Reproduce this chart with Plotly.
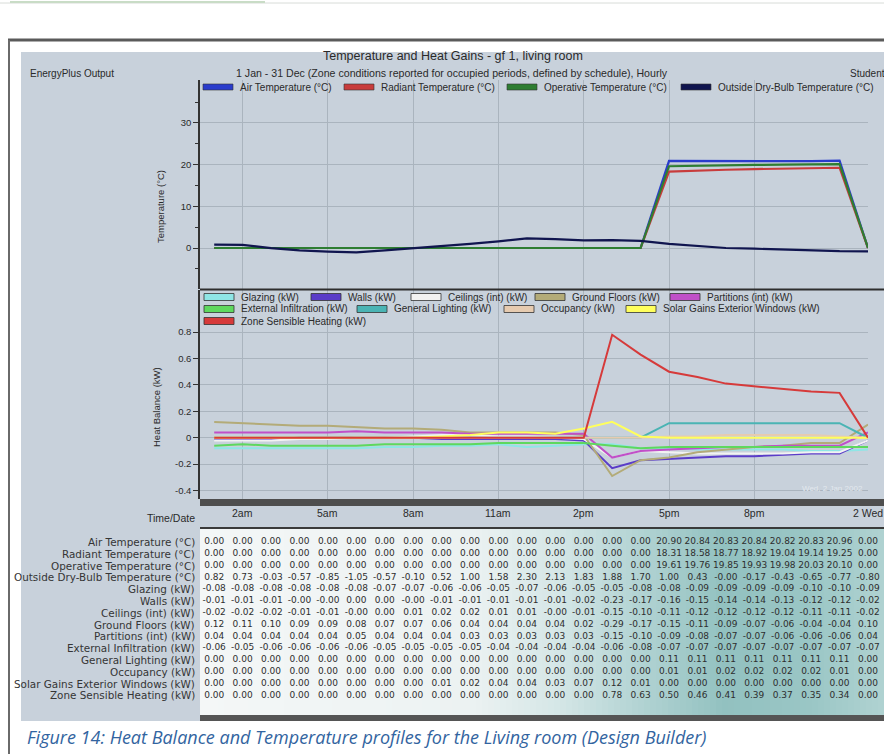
import plotly.graph_objects as go

# ---------------------------------------------------------------- data
hours = list(range(1, 25))          # hourly steps, 1am .. midnight

air_temp = [0.00] * 16 + [20.90, 20.84, 20.83, 20.84, 20.82, 20.83, 20.96, 0.00]
radiant_temp = [0.00] * 16 + [18.31, 18.58, 18.77, 18.92, 19.04, 19.14, 19.25, 0.00]
operative_temp = [0.00] * 16 + [19.61, 19.76, 19.85, 19.93, 19.98, 20.03, 20.10, 0.00]
outside_temp = [0.82, 0.73, -0.03, -0.57, -0.85, -1.05, -0.57, -0.10, 0.52, 1.00, 1.58, 2.30,
                2.13, 1.83, 1.88, 1.70, 1.00, 0.43, -0.0, -0.17, -0.43, -0.65, -0.77, -0.80]

glazing = [-0.08, -0.08, -0.08, -0.08, -0.08, -0.08, -0.07, -0.07, -0.06, -0.06, -0.05, -0.07,
           -0.06, -0.05, -0.05, -0.08, -0.08, -0.09, -0.09, -0.09, -0.09, -0.10, -0.10, -0.09]
walls = [-0.01, -0.01, -0.01, -0.0, -0.0, 0.00, 0.00, -0.0, -0.01, -0.01, -0.01, -0.01,
         -0.01, -0.02, -0.23, -0.17, -0.16, -0.15, -0.14, -0.14, -0.13, -0.12, -0.12, -0.02]
ceilings = [-0.02, -0.02, -0.02, -0.01, -0.01, -0.0, 0.00, 0.01, 0.02, 0.02, 0.01, 0.01,
            -0.0, -0.01, -0.15, -0.10, -0.11, -0.12, -0.12, -0.12, -0.12, -0.11, -0.11, -0.02]
ground_floors = [0.12, 0.11, 0.10, 0.09, 0.09, 0.08, 0.07, 0.07, 0.06, 0.04, 0.04, 0.04,
                 0.04, 0.02, -0.29, -0.17, -0.15, -0.11, -0.09, -0.07, -0.06, -0.04, -0.04, 0.10]
partitions = [0.04, 0.04, 0.04, 0.04, 0.04, 0.05, 0.04, 0.04, 0.04, 0.03, 0.03, 0.03,
              0.03, 0.03, -0.15, -0.10, -0.09, -0.08, -0.07, -0.07, -0.06, -0.06, -0.06, 0.04]
infiltration = [-0.06, -0.05, -0.06, -0.06, -0.06, -0.06, -0.05, -0.05, -0.05, -0.05, -0.04, -0.04,
                -0.04, -0.04, -0.06, -0.08, -0.07, -0.07, -0.07, -0.07, -0.07, -0.07, -0.07, -0.07]
lighting = [0.00] * 16 + [0.11] * 7 + [0.00]
occupancy = [0.00] * 16 + [0.01, 0.01, 0.02, 0.02, 0.02, 0.02, 0.01, 0.00]
solar_gains = [0.00] * 8 + [0.01, 0.02, 0.04, 0.04, 0.03, 0.07, 0.12, 0.01] + [0.00] * 8
zone_heating = [0.00] * 14 + [0.78, 0.63, 0.50, 0.46, 0.41, 0.39, 0.37, 0.35, 0.34, 0.00]

time_tick_hours = [2, 5, 8, 11, 14, 17, 20, 24]
time_tick_labels = ["2am", "5am", "8am", "11am", "2pm", "5pm", "8pm", "2 Wed"]

temp_ticks = [0, 10, 20, 30]
balance_ticks = [-0.4, -0.2, 0, 0.2, 0.4, 0.6, 0.8]

temp_names = ["Air Temperature (°C)", "Radiant Temperature (°C)",
              "Operative Temperature (°C)", "Outside Dry-Bulb Temperature (°C)"]
balance_names = ["Glazing (kW)", "Walls (kW)", "Ceilings (int) (kW)", "Ground Floors (kW)",
                 "Partitions (int) (kW)", "External Infiltration (kW)", "General Lighting (kW)",
                 "Occupancy (kW)", "Solar Gains Exterior Windows (kW)", "Zone Sensible Heating (kW)"]

temp_series = [air_temp, radiant_temp, operative_temp, outside_temp]
balance_series = [glazing, walls, ceilings, ground_floors, partitions, infiltration,
                  lighting, occupancy, solar_gains, zone_heating]

# ---------------------------------------------------------------- styling
W, H = 884, 754
FONT = "Liberation Sans, Arial, sans-serif"
TABLE_FONT = "DejaVu Sans, sans-serif"
TXT = "#2a2a2a"
BG = "#c8d1db"
GRID = "#aab4be"

temp_colors = ["#2a3ccc", "#c83c3c", "#2e7d32", "#10154f"]
balance_colors = ["#8fe6e6", "#5a3cc8", "#f2f2f2", "#b3ab78", "#c050c8",
                  "#5ed85e", "#4ab4b4", "#e6cbb0", "#ffff5c", "#d63a3a"]

ROW0, ROWSTEP = 542, 11.8           # pixel row layout of the value table


def px(x):
    return x / W


def py(y):
    return 1 - y / H


shapes = []
annotations = []


def rect(x0, y0, x1, y1, fill, line="rgba(0,0,0,0)", lw=0, layer="below"):
    shapes.append(dict(type="rect", xref="paper", yref="paper",
                       x0=px(x0), x1=px(x1), y0=py(y1), y1=py(y0),
                       fillcolor=fill, line=dict(color=line, width=lw), layer=layer))


def hline(x0, x1, y, color, lw, layer="below"):
    shapes.append(dict(type="line", xref="paper", yref="paper",
                       x0=px(x0), x1=px(x1), y0=py(y), y1=py(y),
                       line=dict(color=color, width=lw), layer=layer))


def vline(x, y0, y1, color, lw, layer="below"):
    shapes.append(dict(type="line", xref="paper", yref="paper",
                       x0=px(x), x1=px(x), y0=py(y0), y1=py(y1),
                       line=dict(color=color, width=lw), layer=layer))


def text(x, y, s, size=10, anchor="left", color=TXT, family=FONT, **kw):
    annotations.append(dict(xref="paper", yref="paper", x=px(x), y=py(y), text=s,
                            showarrow=False, xanchor=anchor, yanchor="middle",
                            font=dict(family=family, size=size, color=color), **kw))


# page frame
hline(0, W, 3, "#d8dcd8", 1)
hline(10, 265, 2, "#c9dcc6", 2)
hline(8, W, 40, "#5a5a5a", 3)
vline(9, 40, H, "#6a6a6a", 2)

# report background
rect(21, 52, W, 721, BG)

# table cell gradient (white to teal)
stops = [(200, (244, 247, 247)), (470, (236, 242, 242)), (555, (214, 231, 231)),
         (640, (178, 211, 211)), (725, (146, 193, 192)), (810, (154, 198, 197)), (884, (176, 210, 210))]


def grad(x):
    for (xa, ca), (xb, cb) in zip(stops[:-1], stops[1:]):
        if xa <= x <= xb:
            t = (x - xa) / (xb - xa)
            return tuple(round(a + (b - a) * t) for a, b in zip(ca, cb))
    return stops[-1][1]


step = 6
for x0 in range(200, W, step):
    c = grad(x0 + step / 2)
    rect(x0, 529, min(x0 + step + 0.5, W), 715, "rgb(%d,%d,%d)" % c)

# bars around the time row and table
rect(200, 499, W, 506, "#4e4e4e")
hline(200, W, 528, "#3a3a3a", 2)
rect(200, 715, W, 721, "#555555")
hline(200, W, 289.5, "#2e2e2e", 2, layer="above")

# headings
text(453, 56, "Temperature and Heat Gains - gf 1, living room", size=12.5, anchor="center")
text(452, 73, "1 Jan - 31 Dec (Zone conditions reported for occupied periods, defined by schedule), Hourly",
     size=10.6, anchor="center")
text(28, 73, "EnergyPlus Output", size=10)
text(848, 73, "Student", size=10)

# top legend
for name, col, x0 in zip(temp_names, temp_colors, [203, 344, 507, 681]):
    rect(x0, 84, x0 + 30, 90, col, line="#333333", lw=0.6, layer="above")
    text(x0 + 35, 87, name, size=10)

# bottom legend
legend_slots = [(204, 297), (311, 297), (411, 297), (535, 297), (670, 297),
                (204, 309), (357, 309), (504, 309), (626, 309), (204, 321)]
for name, col, (x0, y0) in zip(balance_names, balance_colors, legend_slots):
    rect(x0, y0 - 3.5, x0 + 30, y0 + 3.5, col, line="#333333", lw=0.8, layer="above")
    text(x0 + 35, y0, name, size=10)

# axis titles
text(160, 207, "Temperature (°C)", size=9.5, anchor="center", textangle=-90)
text(156, 407, "Heat Balance (kW)", size=9.5, anchor="center", textangle=-90)

# run date stamp
text(865, 488, "Wed, 2 Jan 2002", size=8, anchor="right", color="#e2e8ee")

# time/date row
text(197, 518, "Time/Date", size=10.5, anchor="right")
for h, lab in zip(time_tick_hours, time_tick_labels):
    annotations.append(dict(xref="x2", yref="paper", x=h, y=py(513), text=lab, showarrow=False,
                            xanchor="center", yanchor="middle",
                            font=dict(family=FONT, size=10.5, color=TXT)))

# table row labels
row_names = temp_names + balance_names
row_series = temp_series + balance_series
for i, name in enumerate(row_names):
    text(197, ROW0 + ROWSTEP * i, name, size=10.4, anchor="right", color="#353535",
         family=TABLE_FONT)

# caption
annotations.append(dict(xref="paper", yref="paper", x=px(25), y=py(737), showarrow=False,
                        xanchor="left", yanchor="middle",
                        text="Figure 14: Heat Balance and Temperature profiles for the Living room (Design Builder)",
                        font=dict(family="Open Sans, sans-serif", size=18, color="#3264a0",
                                  style="italic")))

# ---------------------------------------------------------------- traces
fig = go.Figure()

for name, vals, col in zip(temp_names, temp_series, temp_colors):
    fig.add_trace(go.Scatter(x=hours, y=vals, mode="lines", name=name,
                             line=dict(color=col, width=2.2), xaxis="x", yaxis="y",
                             hoverinfo="skip"))

for name, vals, col in zip(balance_names, balance_series, balance_colors):
    fig.add_trace(go.Scatter(x=hours, y=vals, mode="lines", name=name,
                             line=dict(color=col, width=2), xaxis="x2", yaxis="y2",
                             hoverinfo="skip"))

# table values, one text row per series
for i, vals in enumerate(row_series):
    fig.add_trace(go.Scatter(x=hours, y=[i] * len(vals), mode="text",
                             text=[f"{v:.2f}" for v in vals],
                             textfont=dict(family=TABLE_FONT, size=9, color="#2e2e2e"),
                             textposition="middle center", xaxis="x3", yaxis="y3",
                             cliponaxis=False, hoverinfo="skip"))

xdom = [px(200), px(868)]
xrange_ = [0.5, 24.0]
common_x = dict(domain=xdom, range=xrange_, tickvals=time_tick_hours, showgrid=True,
                gridcolor=GRID, gridwidth=1, showticklabels=False, zeroline=False,
                showline=False, ticks="")
common_y = dict(showline=True, linecolor="#333333", linewidth=1.5, ticks="outside", ticklen=5,
                tickcolor="#333333", tickfont=dict(family=FONT, size=9.5, color=TXT),
                showgrid=True, gridcolor=GRID, gridwidth=1, zeroline=False)

# table axis: row i sits at pixel ROW0 + ROWSTEP * i
tbl_top, tbl_bot = 529, 715
fig.update_layout(
    width=W, height=H, margin=dict(l=0, r=0, t=0, b=0),
    paper_bgcolor="white", plot_bgcolor="rgba(0,0,0,0)",
    showlegend=False,
    xaxis=dict(**common_x, anchor="y"),
    xaxis2=dict(**common_x, anchor="y2"),
    xaxis3=dict(domain=xdom, range=xrange_, visible=False, anchor="y3"),
    yaxis=dict(**common_y, domain=[py(289), py(80)], range=[-9.83, 40.29],
               tickvals=temp_ticks, ticktext=[str(t) for t in temp_ticks], anchor="x",
               minor=dict(tickvals=[-5, 5, 15, 25, 35], ticks="outside", ticklen=3,
                          tickcolor="#333333", showgrid=False)),
    yaxis2=dict(**common_y, domain=[py(499), py(290)], range=[-0.464, 1.119],
                tickvals=balance_ticks,
                ticktext=["-0.4", "-0.2", "0", "0.2", "0.4", "0.6", "0.8"], anchor="x2"),
    yaxis3=dict(domain=[py(tbl_bot), py(tbl_top)],
                range=[(tbl_bot - ROW0) / ROWSTEP, (tbl_top - ROW0) / ROWSTEP],
                visible=False, anchor="x3"),
    shapes=shapes,
    annotations=annotations,
)

fig.write_html("out.html")
